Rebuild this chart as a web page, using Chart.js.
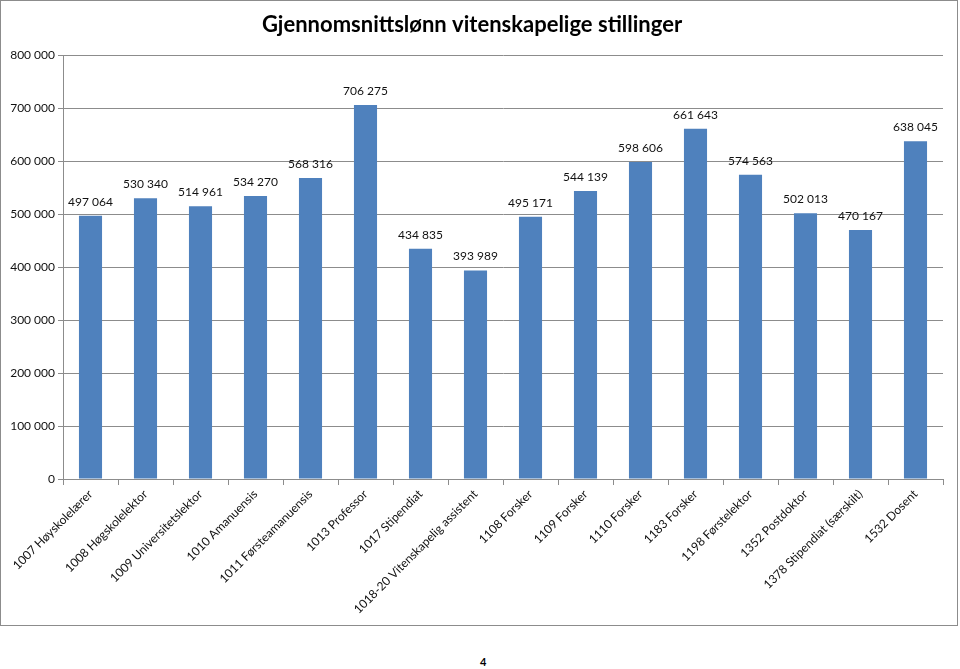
<!DOCTYPE html>
<html>
<head>
<meta charset="utf-8">
<script src="https://cdn.jsdelivr.net/npm/chart.js@4/dist/chart.umd.min.js"></script>
<style>
  body { margin: 0; background: #fff; font-family: Lato, "Open Sans", sans-serif; }
  #frame { position: absolute; left: 0; top: 0; width: 956px; height: 624px; border: 1px solid #8c8c8c; }
  #pageNo { position: absolute; left: 480px; top: 655px; font: bold 11px Lato, sans-serif; color: #000; }
</style>
</head>
<body>
<div id="frame"><canvas id="salaryChart" width="956" height="624"></canvas></div>
<div id="pageNo">4</div>
<script>
const categories = [
  "1007 Høyskolelærer", "1008 Høgskolelektor", "1009 Universitetslektor", "1010 Amanuensis",
  "1011 Førsteamanuensis", "1013 Professor", "1017 Stipendiat", "1018-20 Vitenskapelig assistent",
  "1108 Forsker", "1109 Forsker", "1110 Forsker", "1183 Forsker", "1198 Førstelektor",
  "1352 Postdoktor", "1378 Stipendiat (særskilt)", "1532 Dosent"
];
const salaries = [
  497064, 530340, 514961, 534270, 568316, 706275, 434835, 393989,
  495171, 544139, 598606, 661643, 574563, 502013, 470167, 638045
];
const yTicks = { min: 0, max: 800000, step: 100000 };

const fmt = (v) => v.toString().replace(/\B(?=(\d{3})+(?!\d))/g, " ");

// value labels above the bars
const barLabels = {
  id: "barLabels",
  afterDatasetsDraw(chart) {
    const ctx = chart.ctx;
    const meta = chart.getDatasetMeta(0);
    ctx.save();
    ctx.font = "12px Lato, sans-serif";
    ctx.fillStyle = "#111";
    ctx.textAlign = "center";
    ctx.textBaseline = "middle";
    meta.data.forEach((bar, i) => {
      ctx.fillText(fmt(salaries[i]), bar.x, bar.y - 14);
    });
    ctx.restore();
  }
};

new Chart(document.getElementById("salaryChart"), {
  type: "bar",
  data: {
    labels: categories,
    datasets: [{
      data: salaries,
      backgroundColor: "#4F81BD",
      barPercentage: 0.42,
      categoryPercentage: 1
    }]
  },
  options: {
    responsive: false,
    animation: false,
    layout: { padding: { left: 0, right: 14, top: 0, bottom: 0 } },
    plugins: {
      legend: { display: false },
      tooltip: { enabled: false },
      title: {
        display: true,
        text: "Gjennomsnittslønn vitenskapelige stillinger",
        color: "#000",
        font: { family: "Lato, sans-serif", size: 22, weight: "bold", lineHeight: 1.2 },
        padding: { top: 11, bottom: 17 }
      }
    },
    scales: {
      x: {
        grid: { display: true, drawOnChartArea: false, offset: true, color: "#8c8c8c", tickLength: 6 },
        border: { color: "#8c8c8c" },
        ticks: {
          color: "#111",
          font: { family: "Lato, sans-serif", size: 12 },
          minRotation: 45,
          maxRotation: 45,
          autoSkip: false,
          padding: 2
        },
        afterFit(scale) { scale.height = 146; }
      },
      y: {
        min: yTicks.min,
        max: yTicks.max,
        grid: { color: "#8c8c8c", tickLength: 5 },
        border: { color: "#8c8c8c" },
        ticks: {
          stepSize: yTicks.step,
          color: "#111",
          font: { family: "Lato, sans-serif", size: 12 },
          padding: 3,
          callback: (v) => fmt(v)
        },
        afterFit(scale) { scale.width = 62; }
      }
    }
  },
  plugins: [barLabels]
});
</script>
</body>
</html>
